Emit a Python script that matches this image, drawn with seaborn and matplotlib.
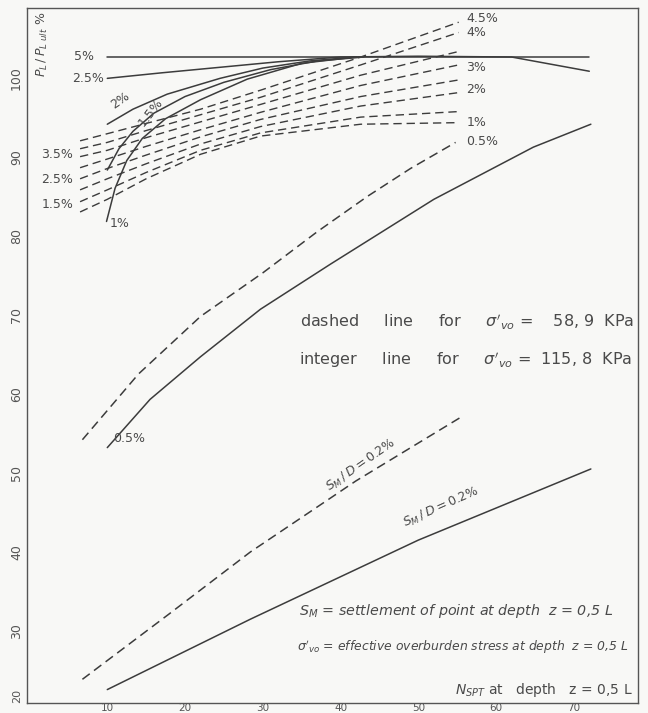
import matplotlib
matplotlib.use("Agg")
import matplotlib.pyplot as plt
import seaborn as sns

# N_SPT (x) and P_L / P_L ult % (y)

# integer lines, sigma'vo = 115.8 kPa
int_5_n = [10, 72]
int_5_p = [102.6, 102.6]
int_25_n = [10, 17, 24.5, 32, 40, 50, 62, 72]
int_25_p = [99.9, 100.6, 101.3, 102.0, 102.6, 102.7, 102.6, 100.8]
int_2_n = [10, 13.3, 17.7, 24.5, 30, 36, 42]
int_2_p = [94.1, 96.0, 97.9, 99.9, 101.2, 102.1, 102.6]
int_15_n = [10, 11.5, 13.3, 16, 20, 25, 31, 37, 43]
int_15_p = [88.3, 91.0, 93.2, 95.5, 97.6, 99.4, 101.0, 102.1, 102.6]
int_1_n = [9.9, 11.0, 12.5, 14.5, 17.5, 22, 28, 35, 42]
int_1_p = [81.8, 86.0, 89.5, 92.3, 94.8, 97.2, 99.8, 101.8, 102.6]
int_05_n = [10, 15.5, 22, 29.7, 38.7, 52, 64.8, 72.2]
int_05_p = [53.2, 59.3, 64.7, 70.7, 76.4, 84.6, 91.2, 94.1]
int_sm_n = [10, 28.4, 50, 72.2]
int_sm_p = [22.6, 31.5, 41.5, 50.5]

# dashed lines, sigma'vo = 58.9 kPa
dash_n = [6.5, 10, 15, 22, 29.7, 42.6, 55.2]
dash_45_p = [92.0, 92.9, 94.2, 96.0, 98.4, 102.6, 107.0]
dash_4_p = [91.0, 91.8, 93.3, 95.3, 97.5, 101.6, 105.7]
dash_35_p = [90.0, 90.8, 92.4, 94.4, 96.6, 100.3, 103.3]
dash_3_p = [88.6, 89.7, 91.3, 93.4, 95.6, 99.0, 101.6]
dash_25_p = [87.2, 88.5, 90.2, 92.5, 94.7, 97.6, 99.7]
dash_2_p = [85.8, 87.2, 89.1, 91.6, 93.8, 96.4, 98.1]
dash_15_p = [84.3, 85.8, 88.0, 90.8, 93.0, 95.0, 95.7]
dash_1_p = [83.0, 84.6, 87.2, 90.3, 92.6, 94.1, 94.3]
dash_05_n = [6.8, 14, 22, 30, 37, 43.5, 49, 54.8]
dash_05_p = [54.2, 62.5, 69.8, 75.3, 80.5, 85.0, 88.5, 91.8]
dash_sm_n = [6.8, 18, 28.4, 42, 55.4]
dash_sm_p = [23.9, 32.2, 40.0, 49.0, 57.0]

x_ticks = [10, 20, 30, 40, 50, 60, 70]
y_ticks = [30, 40, 50, 60, 70, 80, 90, 100]

ink = "#3c3c3c"
paper = "#f8f8f6"

sns.set_style("white")
fig = plt.figure(figsize=(6.48, 7.13), dpi=100, facecolor=paper)
ax = fig.add_axes([0.042, 0.0140, 0.943, 0.9748], facecolor=paper)


def curve(n, p, dashed=False, lw=1.1):
    sns.lineplot(x=n, y=p, ax=ax, color=ink, linewidth=lw, sort=False,
                 estimator=None, linestyle=(0, (6, 3.5)) if dashed else "-")


for n, p in [(int_5_n, int_5_p), (int_25_n, int_25_p), (int_2_n, int_2_p),
             (int_15_n, int_15_p), (int_1_n, int_1_p), (int_05_n, int_05_p),
             (int_sm_n, int_sm_p)]:
    curve(n, p)

for p in [dash_45_p, dash_4_p, dash_35_p, dash_3_p, dash_25_p, dash_2_p,
          dash_15_p, dash_1_p]:
    curve(dash_n, p, dashed=True, lw=1.0)
curve(dash_05_n, dash_05_p, dashed=True)
curve(dash_sm_n, dash_sm_p, dashed=True)

ax.set_xlim(-0.3, 78.3)
ax.set_ylim(20.9, 108.8)
ax.set_xticks(x_ticks)
ax.set_yticks(y_ticks)
ax.set_xticklabels([str(v) for v in x_ticks], fontsize=7.5, color="#555")
ax.set_yticklabels([str(v) for v in y_ticks], fontsize=9, color="#555",
                   rotation=90, va="center")
ax.tick_params(axis="x", length=0, pad=0)
ax.tick_params(axis="y", length=0, pad=3)
ax.set_xlabel("")
ax.set_ylabel("")
for s in ax.spines.values():
    s.set_color("#555")
    s.set_linewidth(1.0)

txt = dict(color="#4a4a4a", fontsize=9)

# y label inside the frame
ax.text(1.7, 104.2, r"$P_L\,/\,P_{L\ ult}$ %", rotation=90, ha="center",
        va="center", **txt)
ax.text(-1.0, 21.8, "20", rotation=90, ha="right", va="center",
        fontsize=8, color="#555", clip_on=False)

# curve labels, left side
ax.text(8.3, 102.7, "5%", ha="right", va="center", **txt)
ax.text(9.6, 99.9, "2.5%", ha="right", va="center", **txt)
ax.text(11.7, 97.1, "2%", ha="center", va="center", rotation=35, **txt)
ax.text(15.6, 95.6, "1.5%", ha="center", va="center", rotation=52, **txt)
ax.text(11.6, 81.5, "1%", ha="center", va="center", **txt)
ax.text(5.6, 90.3, "3.5%", ha="right", va="center", **txt)
ax.text(5.6, 87.1, "2.5%", ha="right", va="center", **txt)
ax.text(5.6, 84.0, "1.5%", ha="right", va="center", **txt)
ax.text(12.8, 54.3, "0.5%", ha="center", va="center", **txt)

# curve labels, right side
for yv, lab in [(107.5, "4.5%"), (105.7, "4%"), (101.3, "3%"),
                (98.5, "2%"), (94.3, "1%"), (91.9, "0.5%")]:
    ax.text(56.2, yv, lab, ha="left", va="center", **txt)

# settlement 0.2 % labels along the lower lines
ax.text(42.6, 51.0, r"$S_M\,/\,D = 0.2$%", rotation=35, ha="center",
        va="center", **txt)
ax.text(52.9, 45.6, r"$S_M\,/\,D = 0.2$%", rotation=24, ha="center",
        va="center", **txt)

# legend notes
big = dict(color="#4a4a4a", fontsize=11.5)
ax.text(34.8, 69.2,
        r"dashed     line     for     $\sigma'_{vo}$ =    58, 9  KPa",
        ha="left", va="center", **big)
ax.text(34.6, 64.3,
        r"integer     line     for     $\sigma'_{vo}$ =  115, 8  KPa",
        ha="left", va="center", **big)
ax.text(34.6, 32.5, r"$S_M$ = settlement of point at depth  z = 0,5 L",
        ha="left", va="center", style="italic", color="#4a4a4a", fontsize=10.3)
ax.text(34.4, 27.9,
        r"$\sigma'_{vo}$ = effective overburden stress at depth  z = 0,5 L",
        ha="left", va="center", style="italic", color="#4a4a4a", fontsize=8.9)
ax.text(77.6, 22.6, r"$N_{SPT}$ at   depth   z = 0,5 L", ha="right",
        va="center", color="#4a4a4a", fontsize=10)

fig.savefig("out.png", dpi=100, facecolor=paper)
